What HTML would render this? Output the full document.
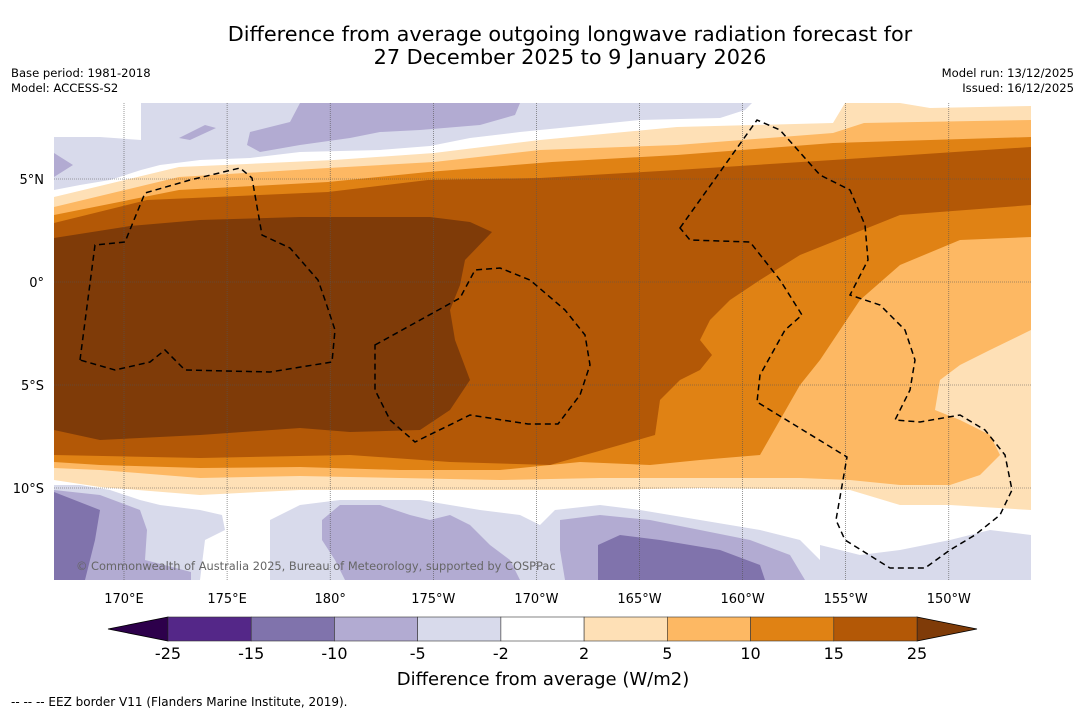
<!DOCTYPE html>
<html><head><meta charset="utf-8"><style>
body{margin:0;background:#fff;width:1085px;height:713px;overflow:hidden;font-family:"DejaVu Sans","Liberation Sans",sans-serif}
svg text{font-family:"DejaVu Sans","Liberation Sans",sans-serif}
</style></head><body>
<svg id="chart" width="1085" height="713" viewBox="0 0 1085 713">
<text x="570" y="41" font-size="20.8" text-anchor="middle">Difference from average outgoing longwave radiation forecast for</text>
<text x="570" y="64" font-size="20.8" text-anchor="middle">27 December 2025 to 9 January 2026</text>
<text x="11" y="77" font-size="11.6">Base period: 1981-2018</text>
<text x="11" y="92" font-size="11.6">Model: ACCESS-S2</text>
<text x="1074" y="77" font-size="11.6" text-anchor="end">Model run: 13/12/2025</text>
<text x="1074" y="92" font-size="11.6" text-anchor="end">Issued: 16/12/2025</text>
<defs><clipPath id="mapclip"><rect x="54" y="103" width="977" height="477"/></clipPath></defs>
<g clip-path="url(#mapclip)">
<rect x="54" y="103" width="977" height="477" fill="#fff"/>
<path fill="#d8daeb" d="M54,137 L100,137 L141,140 L141,103 L752,103 L745,110 L720,118 L640,120 L560,128 L520,132 L470,138 L430,146 L380,150 L300,152 L250,158 L200,160 L160,165 L141,170 L110,180 L80,185 L54,190Z"/>
<path fill="#b2abd2" d="M300,103 L520,103 L515,115 L480,125 L420,130 L380,132 L350,138 L300,145 L260,152 L247,145 L250,132 L290,122Z M205,125 L216,128 L190,140 L179,138Z M54,153 L73,165 L54,177Z"/>
<path fill="#fee0b6" d="M54,197 L179,167 L334,160 L434,153 L540,140 L677,127 L833,123 L845,103 L900,103 L930,108 L1031,106 L1031,510 L950,505 L900,505 L850,490 L700,488 L600,490 L500,490 L400,490 L300,490 L200,495 L100,487 L54,480Z"/>
<path fill="#fdb863" d="M54,207 L179,177 L328,168 L434,162 L540,150 L677,145 L833,133 L864,123 L1031,120 L1031,330 L990,350 L960,365 L940,380 L935,410 L960,420 L990,435 L1000,455 L980,475 L950,485 L900,485 L850,480 L800,478 L700,478 L600,478 L500,480 L400,478 L300,476 L200,478 L100,470 L54,468Z"/>
<path fill="#e08214" d="M54,215 L179,190 L328,182 L428,172 L552,162 L677,155 L833,143 L1031,137 L1031,237 L960,240 L900,265 L860,300 L840,330 L820,360 L800,385 L780,420 L760,455 L700,460 L650,465 L580,462 L500,470 L400,470 L300,467 L200,468 L100,465 L54,462Z"/>
<path fill="#b35806" d="M54,223 L147,200 L328,192 L428,180 L540,178 L677,170 L833,160 L1031,147 L1031,205 L900,215 L850,235 L800,255 L760,280 L730,300 L710,320 L700,340 L712,355 L700,370 L680,380 L660,400 L655,435 L620,445 L550,465 L450,462 L350,455 L200,458 L54,455Z"/>
<path fill="#7f3b08" d="M54,238 L130,226 L200,220 L300,217 L430,217 L470,222 L492,232 L465,260 L460,285 L450,310 L455,340 L470,380 L450,410 L420,430 L350,432 L300,428 L200,435 L100,440 L54,430Z"/>
<path fill="#d8daeb" d="M54,485 L80,485 L110,490 L140,500 L160,505 L200,510 L222,515 L225,530 L205,540 L200,580 L54,580Z"/>
<path fill="#d8daeb" d="M270,520 L300,505 L340,500 L420,500 L480,510 L520,515 L540,525 L555,510 L600,505 L640,510 L700,520 L760,530 L800,540 L820,560 L830,580 L270,580Z"/>
<path fill="#d8daeb" d="M820,545 L860,555 L900,550 L950,540 L990,530 L1031,535 L1031,580 L820,580Z"/>
<path fill="#b2abd2" d="M54,490 L100,495 L140,510 L147,530 L145,560 L191,572 L191,580 L54,580Z M322,520 L340,505 L380,505 L410,515 L430,520 L450,515 L470,525 L490,545 L510,560 L520,580 L345,580 L335,560 L322,540Z M560,520 L600,515 L650,520 L700,530 L750,540 L790,555 L805,580 L565,580 L560,550Z"/>
<path fill="#8073ac" d="M54,492 L100,510 L95,540 L85,580 L54,580Z M598,545 L620,535 L660,540 L720,550 L760,565 L765,580 L598,580Z"/>
<g id="grid" stroke="#555" stroke-width="0.6" stroke-dasharray="1,1" fill="none"></g>
<g fill="none" stroke="#000" stroke-width="1.5" stroke-dasharray="6,4">
<path d="M80,360 L95,245 L125,242 L145,193 L190,180 L240,168 L252,178 L262,235 L290,248 L318,280 L325,300 L335,330 L332,362 L270,372 L185,370 L165,350 L150,362 L115,370 Z"/>
<path d="M375,345 L460,298 L475,270 L500,268 L530,280 L565,310 L585,335 L590,365 L580,395 L558,424 L528,424 L470,415 L415,442 L390,420 L375,390 Z"/>
<path d="M680,228 L757,120 L780,130 L820,175 L850,190 L865,225 L868,260 L850,295 L880,305 L905,330 L915,360 L910,390 L895,420 L920,422 L960,415 L985,430 L1005,455 L1012,490 L1000,515 L975,535 L950,550 L925,568 L890,568 L845,540 L836,520 L847,457 L757,402 L760,375 L785,330 L802,315 L780,280 L750,242 L690,240 Z"/>
</g>
<text x="76" y="570" font-size="11.4" fill="#666">© Commonwealth of Australia 2025, Bureau of Meteorology, supported by COSPPac</text>
</g>
<g id="axes"></g>
<g id="cbar"></g>
<text x="543" y="685" font-size="18" text-anchor="middle">Difference from average (W/m2)</text>
<text x="11" y="706" font-size="12">--  --  -- EEZ border V11 (Flanders Marine Institute, 2019).</text>
</svg>
<script>
const lonLabels=["170°E","175°E","180°","175°W","170°W","165°W","160°W","155°W","150°W"];
const lonValues=[170,175,180,185,190,195,200,205,210];
const latLabels=["5°N","0°","5°S","10°S"];
const latValues=[5,0,-5,-10];
const levels=[-25,-15,-10,-5,-2,2,5,10,15,25];
const levelColors=["#542788","#8073ac","#b2abd2","#d8daeb","#ffffff","#fee0b6","#fdb863","#e08214","#b35806"];
const underColor="#2d004b", overColor="#7f3b08";
const NS="http://www.w3.org/2000/svg";
const xLon=l=>124+(l-170)*103.1/5;
const yLat=l=>282-l*20.6;
function mk(tag,attrs,parent){const e=document.createElementNS(NS,tag);for(const k in attrs)e.setAttribute(k,attrs[k]);parent.appendChild(e);return e;}
const grid=document.getElementById('grid'),axes=document.getElementById('axes'),cbar=document.getElementById('cbar');
lonValues.forEach((v,i)=>{
 const ln=mk('line',{x1:xLon(v),x2:xLon(v),y1:103,y2:580},grid);
 
 
 const t=mk('text',{x:xLon(v),y:603,'font-size':13,'text-anchor':'middle'},axes);t.textContent=lonLabels[i];
 
 
});
latValues.forEach((v,i)=>{
 const ln=mk('line',{x1:54,x2:1031,y1:yLat(v),y2:yLat(v)},grid);
 
 
 const t=mk('text',{x:44,y:yLat(v)+5,'font-size':13,'text-anchor':'end'},axes);t.textContent=latLabels[i];
 
 
});
const cx0=168,cw=(917-168)/(levels.length-1),cy=617,ch=24;
const la=mk('path',{d:`M${cx0},${cy} L108,${cy+ch/2} L${cx0},${cy+ch}Z`,fill:underColor,stroke:'#000','stroke-width':0.8},cbar);


const ra=mk('path',{d:`M917,${cy} L977,${cy+ch/2} L917,${cy+ch}Z`,fill:overColor,stroke:'#000','stroke-width':0.8},cbar);


levelColors.forEach((c,i)=>{
 const r=mk('rect',{x:cx0+i*cw,y:cy,width:cw,height:ch,fill:c,stroke:'#333','stroke-width':0.6},cbar);
 
 
});
levels.forEach((v,i)=>{
 const t=mk('text',{x:cx0+i*cw,y:cy+ch+18,'font-size':16,'text-anchor':'middle'},cbar);t.textContent=v;
 
 
});
</script>
</body></html>
